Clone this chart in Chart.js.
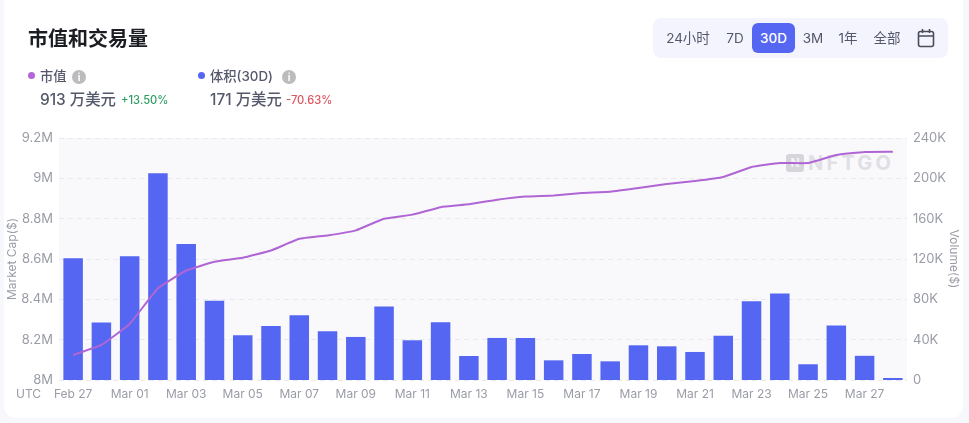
<!DOCTYPE html>
<html>
<head>
<meta charset="utf-8">
<script src="https://cdn.jsdelivr.net/npm/chart.js@4"></script>
<style>
  html, body { margin: 0; padding: 0; width: 969px; height: 423px; overflow: hidden; background: #f7f8fb; }
  body { font-family: Inter, "Noto Sans CJK SC", sans-serif; position: relative; }
  .card { position: absolute; left: 4px; top: -10px; width: 959px; height: 428px; background: #fff; border-radius: 12px; }
  .plot { position: absolute; left: 59px; top: 138px; width: 848px; height: 242px; background: #f9f9fc; }
  canvas { position: absolute; left: 0; top: 0; }
  .abs { position: absolute; white-space: nowrap; }
  .title { left: 28px; top: 25px; font-size: 20px; line-height: 28px; font-weight: 700; color: #1c1d22; }
  .dot { width: 7px; height: 7px; border-radius: 50%; }
  .label { font-size: 13.3px; line-height: 18px; font-weight: 500; color: #55586a; }
  .info { width: 14px; height: 14px; border-radius: 50%; background: #bcbcbf; color: #fff; font-size: 10px; line-height: 14px; text-align: center; font-weight: 700; }
  .value { font-size: 15.4px; line-height: 20px; font-weight: 500; color: #55586a; }
  .pct { font-size: 11.2px; line-height: 20px; font-weight: 500; }
  .range { left: 653px; top: 18px; width: 295px; height: 40px; background: #f3f4fe; border-radius: 8px; }
  .range span { position: absolute; top: 0; line-height: 40px; font-size: 13.5px; color: #55586a; transform: translateX(-50%); }
  .range .on { top: 5px; left: 99px; width: 43px; height: 30px; line-height: 30px; background: #5566f2; color: #fff; border-radius: 6px; text-align: center; font-weight: 500; transform: none; }
  .range svg { position: absolute; left: 264px; top: 10px; }
  .mark { left: 786px; top: 154px; width: 18px; height: 18px; background: #d6d6da; border-radius: 3px; color: #f4f4f7; font-size: 12px; line-height: 18px; text-align: center; font-weight: 700; }
  .brand { left: 808px; top: 152px; font-size: 20px; line-height: 22px; letter-spacing: 3.2px; color: #e0e0e4; font-weight: 700; }
  .utc { left: 16px; top: 387px; font-size: 12px; line-height: 14px; color: #9a9ca6; }
</style>
</head>
<body>
<div class="card"></div>
<div class="plot"></div>
<div class="abs mark">N</div>
<div class="abs brand">NFTGO</div>
<canvas id="chart" width="969" height="423"></canvas>

<div class="abs title">市值和交易量</div>

<div class="abs dot" style="left:28px;top:72px;background:#b565d8"></div>
<div class="abs label" style="left:40px;top:67px">市值</div>
<div class="abs info" style="left:72px;top:70px">i</div>
<div class="abs value" style="left:40px;top:90px">913 万美元</div>
<div class="abs pct" style="left:121px;top:90px;color:#2f9e66">+13.50%</div>

<div class="abs dot" style="left:198px;top:72px;background:#5566f2"></div>
<div class="abs label" style="left:210px;top:67px">体积(30D)</div>
<div class="abs info" style="left:282px;top:70px">i</div>
<div class="abs value" style="left:210px;top:90px">171 万美元</div>
<div class="abs pct" style="left:286px;top:90px;color:#e0525c">-70.63%</div>

<div class="abs range">
  <span style="left:35px">24小时</span>
  <span style="left:82px">7D</span>
  <span class="on">30D</span>
  <span style="left:160px">3M</span>
  <span style="left:195px">1年</span>
  <span style="left:234px">全部</span>
  <svg width="18" height="20" viewBox="0 0 18 20" fill="none" stroke="#4a4c5c" stroke-width="1.6">
    <rect x="1.5" y="3.5" width="15" height="15" rx="2"/>
    <path d="M1.5 8H16.5M5.5 1V5M12.5 1V5"/>
  </svg>
</div>

<div class="abs utc">UTC</div>

<script>
  const categories = [
    'Feb 27', 'Feb 28', 'Mar 01', 'Mar 02', 'Mar 03', 'Mar 04', 'Mar 05', 'Mar 06', 'Mar 07', 'Mar 08',
    'Mar 09', 'Mar 10', 'Mar 11', 'Mar 12', 'Mar 13', 'Mar 14', 'Mar 15', 'Mar 16', 'Mar 17', 'Mar 18',
    'Mar 19', 'Mar 20', 'Mar 21', 'Mar 22', 'Mar 23', 'Mar 24', 'Mar 25', 'Mar 26', 'Mar 27', 'Mar 28'
  ];
  const volume = [
    120800, 57000, 122800, 205000, 135000, 78500, 44400, 53600, 64200, 48300,
    42700, 72800, 39400, 57300, 23800, 41700, 41700, 19500, 25800, 18500,
    34400, 33400, 27800, 44000, 78000, 85700, 15600, 54000, 24000, 2000
  ];
  const marketCap = [
    8124000, 8174000, 8278000, 8455000, 8543000, 8586000, 8606000, 8642000, 8700000, 8717000,
    8742000, 8800000, 8820000, 8857000, 8871000, 8894000, 8910000, 8915000, 8927000, 8934000,
    8952000, 8972000, 8987000, 9007000, 9056000, 9076000, 9076000, 9116000, 9131000, 9132000
  ];
  const capTicks = [8000000, 8200000, 8400000, 8600000, 8800000, 9000000, 9200000];
  const volumeTicks = [0, 40000, 80000, 120000, 160000, 200000, 240000];

  const tickColor = '#9a9ca6';
  const tickFont = { family: 'Inter, sans-serif', size: 12 };
  const valueFont = { family: 'Inter, sans-serif', size: 13 };

  new Chart(document.getElementById('chart'), {
    data: {
      labels: categories,
      datasets: [
        {
          type: 'line',
          label: '市值',
          data: marketCap,
          yAxisID: 'cap',
          borderColor: '#b065d4',
          borderWidth: 2,
          pointRadius: 0,
          tension: 0.1,
          order: 1
        },
        {
          type: 'bar',
          label: '体积(30D)',
          data: volume,
          yAxisID: 'vol',
          backgroundColor: '#5566f2',
          barPercentage: 0.69,
          categoryPercentage: 1,
          order: 2
        }
      ]
    },
    options: {
      responsive: false,
      animation: false,
      layout: { padding: { top: 138, left: 0, right: 0, bottom: 0 } },
      plugins: { legend: { display: false }, tooltip: { enabled: false } },
      scales: {
        x: {
          grid: { display: false, drawTicks: false },
          border: { display: false },
          afterFit: function(s) { s.height = 43; },
          ticks: {
            color: tickColor,
            font: tickFont,
            maxRotation: 0,
            autoSkip: false,
            padding: 7,
            callback: function(v, i) { return i % 2 === 0 ? categories[i] : ''; }
          }
        },
        cap: {
          position: 'left',
          min: 8000000,
          max: 9200000,
          afterFit: function(s) { s.width = 59; },
          afterBuildTicks: function(s) { s.ticks = capTicks.map(function(v) { return { value: v }; }); },
          border: { display: false, dash: [5, 4] },
          grid: { color: '#e8e8ed', drawTicks: false, lineWidth: 1 },
          title: { display: true, text: 'Market Cap($)', color: tickColor, font: tickFont, padding: { top: 5, bottom: 0 } },
          ticks: {
            color: tickColor,
            font: valueFont,
            padding: 6,
            callback: function(v) { return v / 1000000 + 'M'; }
          }
        },
        vol: {
          position: 'right',
          min: 0,
          max: 240000,
          afterFit: function(s) { s.width = 62; },
          afterBuildTicks: function(s) { s.ticks = volumeTicks.map(function(v) { return { value: v }; }); },
          border: { display: false },
          grid: { display: false, drawTicks: false },
          title: { display: true, text: 'Volume($)', color: tickColor, font: tickFont, padding: { top: 8, bottom: 0 } },
          ticks: {
            color: tickColor,
            font: valueFont,
            padding: 6,
            callback: function(v) { return v === 0 ? '0' : v / 1000 + 'K'; }
          }
        }
      }
    }
  });
</script>
</body>
</html>
